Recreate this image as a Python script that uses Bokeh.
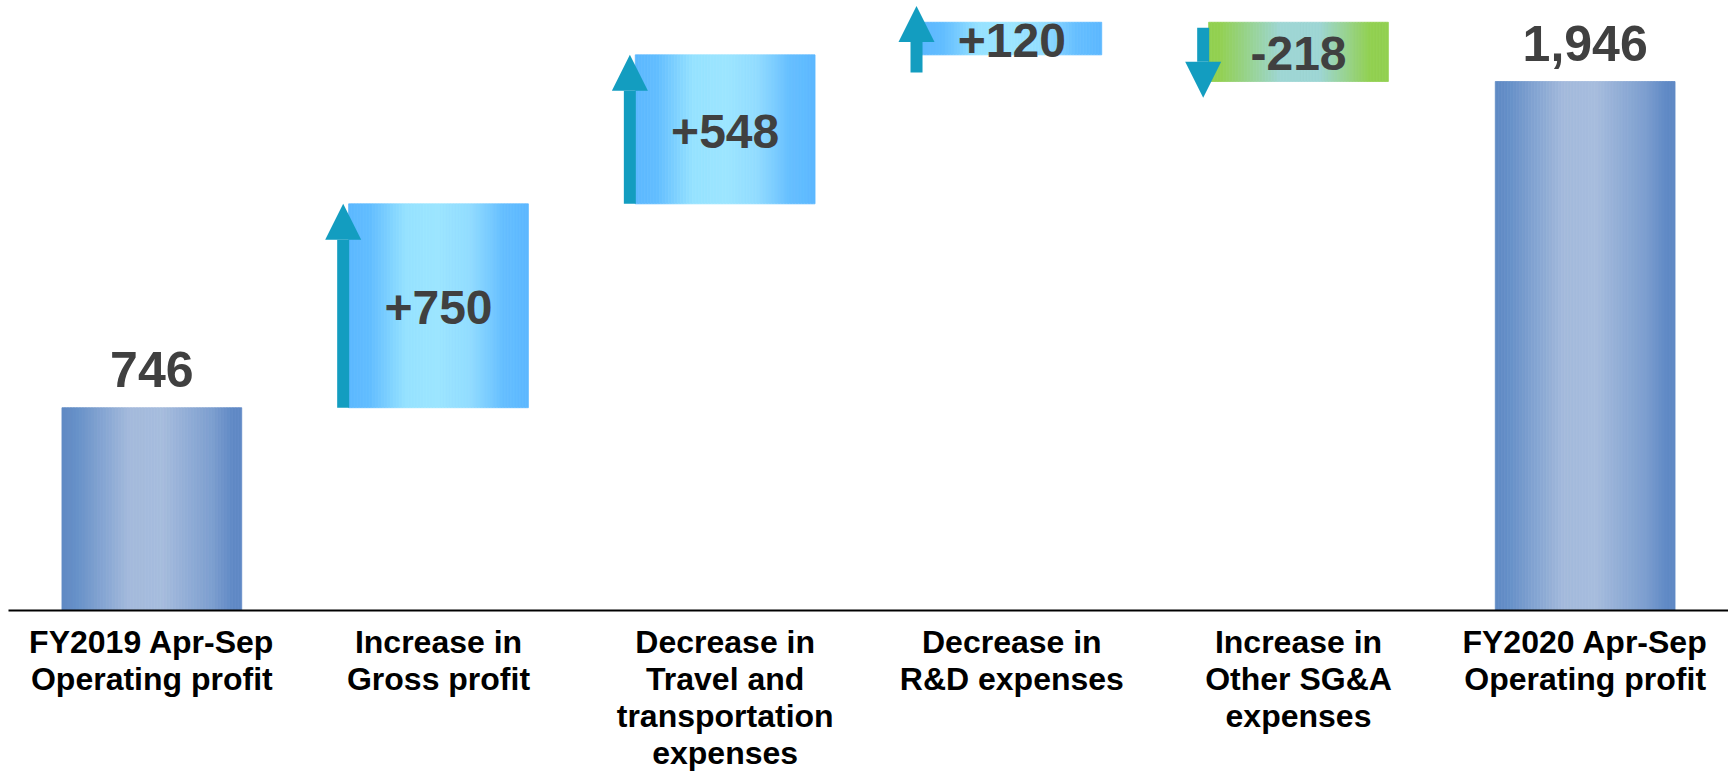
import numpy as np
from bokeh.plotting import figure
from bokeh.models import ColumnDataSource, Arrow, NormalHead, FixedTicker, Range1d
from bokeh.embed import file_html
from bokeh.resources import INLINE
from bokeh.core.properties import value

# ---------------- data ----------------
categories = [
    "FY2019 Apr-Sep\nOperating profit",
    "Increase in\nGross profit",
    "Decrease in\nTravel and\ntransportation\nexpenses",
    "Decrease in\nR&D expenses",
    "Increase in\nOther SG&A\nexpenses",
    "FY2020 Apr-Sep\nOperating profit",
]
amounts = [746, 750, 548, 120, -218, 1946]
kinds = ["total", "delta", "delta", "delta", "delta", "total"]

# ---------------- derived geometry (from data) ----------------
idx = list(range(len(amounts)))
bottoms, tops, befores, afters = [], [], [], []
run = 0
for a, k in zip(amounts, kinds):
    if k == "total":
        befores.append(0); afters.append(a)
        bottoms.append(0); tops.append(a); run = a
    else:
        befores.append(run); afters.append(run + a)
        bottoms.append(min(run, run + a)); tops.append(max(run, run + a)); run += a

BAR_W = 0.627
N_STRIPS = 60

stops = {
    "total": [(0.0, "#5f89c4"), (0.08, "#6690c8"), (0.38, "#a4badc"), (0.56, "#a6bcdd"),
              (0.84, "#7c9ecf"), (0.95, "#6089c5"), (1.0, "#6089c5")],
    "pos": [(0.0, "#5cb8ff"), (0.12, "#62bdff"), (0.32, "#96e2ff"), (0.5, "#9ce5ff"),
            (0.68, "#92dcff"), (0.86, "#66bfff"), (1.0, "#5cb8ff")],
    "neg": [(0.0, "#92d050"), (0.06, "#92d050"), (0.4, "#9ed6d4"), (0.62, "#9ed6d4"),
            (0.9, "#92d050"), (1.0, "#92d050")],
}


def hex2rgb(h):
    h = h.lstrip("#")
    return np.array([int(h[i:i + 2], 16) for i in (0, 2, 4)], dtype=float)


def grad_color(st, t):
    for (t0, c0), (t1, c1) in zip(st[:-1], st[1:]):
        if t0 <= t <= t1:
            f = 0 if t1 == t0 else (t - t0) / (t1 - t0)
            c = hex2rgb(c0) * (1 - f) + hex2rgb(c1) * f
            return "#%02x%02x%02x" % tuple(int(round(v)) for v in c)
    return st[-1][1]


L, R, B, T, C = [], [], [], [], []
for i, a, k, b, t in zip(idx, amounts, kinds, bottoms, tops):
    st = stops["total"] if k == "total" else (stops["pos"] if a >= 0 else stops["neg"])
    x0 = i - BAR_W / 2
    dw = BAR_W / N_STRIPS
    for s in range(N_STRIPS):
        L.append(x0 + s * dw)
        R.append(x0 + (s + 1) * dw)
        B.append(b)
        T.append(t)
        C.append(grad_color(st, (s + 0.5) / N_STRIPS))
strips = ColumnDataSource(dict(left=L, right=R, bottom=B, top=T, color=C))

# ---------------- figure ----------------
p = figure(
    frame_width=1720, frame_height=610,
    x_range=Range1d(-0.5, 5.5), y_range=Range1d(0, 2244),
    output_backend="svg", toolbar_location=None,
    min_border_left=8, min_border_right=0, min_border_top=0, min_border_bottom=162,
)
p.outline_line_color = None
p.background_fill_color = "white"
p.border_fill_color = "white"
p.xgrid.visible = False
p.ygrid.visible = False
p.yaxis.visible = False

p.quad(left="left", right="right", bottom="bottom", top="top", source=strips,
       fill_color="color", line_color="color", line_width=0.8)

# arrows (short changes get a longer arrow so the head stays visible)
ARROW_C = "#139dc0"
for i, a, k, s0, s1 in zip(idx, amounts, kinds, befores, afters):
    if k != "delta":
        continue
    ys, ye = s0, s1
    if abs(a) < 250:
        if a > 0:
            ys, ye = s0 - 65, s1 + 60
        else:
            ys, ye = s0 - 20, s1 - 60
    xa = i - BAR_W / 2 - 0.019
    p.add_layout(Arrow(
        end=NormalHead(size=36, fill_color=ARROW_C, line_color=ARROW_C, line_width=0),
        x_start=xa, y_start=ys, x_end=xa, y_end=ye,
        line_color=ARROW_C, line_width=12, line_cap="butt"))

# value labels
tot_src = ColumnDataSource(dict(
    x=[i for i, k in zip(idx, kinds) if k == "total"],
    y=[t for t, k in zip(tops, kinds) if k == "total"],
    txt=[f"{a:,}" for a, k in zip(amounts, kinds) if k == "total"]))
del_src = ColumnDataSource(dict(
    x=[i for i, k in zip(idx, kinds) if k == "delta"],
    y=[(b + t) / 2 for b, t, k in zip(bottoms, tops, kinds) if k == "delta"],
    txt=[f"{a:+,}" for a, k in zip(amounts, kinds) if k == "delta"]))

p.text(x="x", y="y", text="txt", source=tot_src, text_font=value("Liberation Sans"),
       text_font_style="bold", text_font_size="50px", text_color="#404040",
       text_align="center", text_baseline="alphabetic", y_offset=-38)
p.text(x="x", y="y", text="txt", source=del_src, text_font=value("Liberation Sans"),
       text_font_style="bold", text_font_size="48px", text_color="#404040",
       text_align="center", text_baseline="middle", y_offset=2)

# x axis with category labels
ax = p.xaxis[0]
ax.ticker = FixedTicker(ticks=idx)
ax.major_label_overrides = {i: c for i, c in zip(idx, categories)}
ax.axis_line_color = "black"
ax.axis_line_width = 2.2
ax.major_tick_line_color = None
ax.minor_tick_line_color = None
ax.major_label_text_font = "Liberation Sans"
ax.major_label_text_font_style = "bold"
ax.major_label_text_font_size = "32px"
ax.major_label_text_color = "black"
ax.major_label_text_line_height = 1.03
ax.major_label_standoff = 7

open("out.html", "w").write(file_html(p, INLINE))
